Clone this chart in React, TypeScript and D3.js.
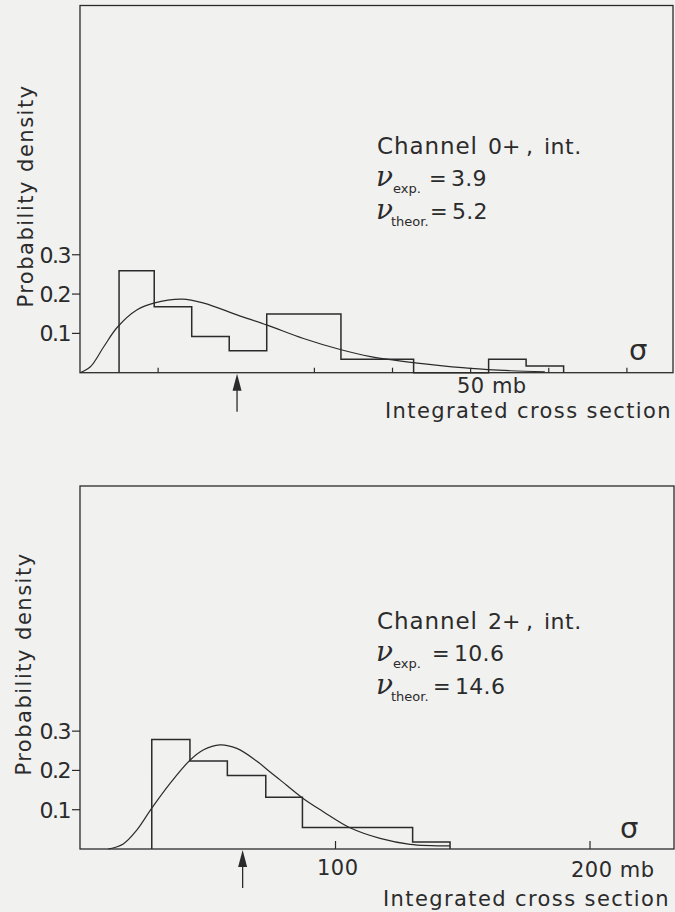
import React from 'react';
import * as d3 from 'd3';

// ---------- Top panel (Channel 0+) ----------
const topBinEdges = [5, 9.5, 14.3, 19.1, 23.9, 33.4, 42.7, 52.3, 57.1, 61.9];
const topBinDensity = [0.259, 0.168, 0.092, 0.056, 0.149, 0.034, 0, 0.034, 0.017];
const topCurveSigma = [0, 1.33, 3.04, 4.75, 7.31, 9.44, 13.07, 15.84, 20.1, 23.95, 28.6, 33.3, 37.2, 40.2, 44.4, 50, 55.1, 59.5];
const topCurveDensity = [0, 0.015, 0.066, 0.115, 0.16, 0.177, 0.187, 0.177, 0.147, 0.121, 0.087, 0.059, 0.041, 0.032, 0.022, 0.011, 0.005, 0.002];
const topXTicks = [10, 30, 40, 50, 60, 70];
const topMean = 20.1;
const topLabels = { channel: '0', exp: '3.9', theor: '5.2', tickLabel: '50 mb', tickValue: 50 };

// ---------- Bottom panel (Channel 2+) ----------
const botBinEdges = [27.8, 42.8, 57.5, 72.6, 87, 130.3, 145];
const botBinDensity = [0.279, 0.224, 0.187, 0.132, 0.055, 0.018];
const botCurveSigma = [10.7, 16.6, 21.9, 27.8, 35, 42.8, 48, 54.6, 61.2, 69, 74.3, 78.2, 87, 95.2, 105.7, 117.5, 129.3, 145];
const botCurveDensity = [0, 0.013, 0.048, 0.104, 0.167, 0.226, 0.252, 0.265, 0.256, 0.224, 0.196, 0.176, 0.13, 0.095, 0.054, 0.027, 0.012, 0.008];
const botXTicks = [100, 200];
const botMean = 63.5;
const botLabels = { channel: '2', exp: '10.6', theor: '14.6' };

const yTicks = [0.1, 0.2, 0.3];
const yTickLabels = ['0.1', '0.2', '0.3'];

const INK = '#2b2b2b';
const FONT = '"DejaVu Sans", sans-serif';

type PanelProps = {
  frame: { left: number; right: number; top: number; bottom: number };
  xDomain: [number, number];
  yDomain: [number, number];
  edges: number[];
  density: number[];
  curveX: number[];
  curveY: number[];
  xTicks: number[];
  tickLen: number;
  mean: number;
  channel: string;
  exp: string;
  theor: string;
  textBase: number;
  eqX: number;
  numX: number;
  sigmaPos: [number, number];
  yLabelCenter: number;
  yLabelX: number;
  xTickTexts: { x: number; y: number; text: string }[];
  xTitle: { x: number; y: number };
};

function Panel(p: PanelProps) {
  const { frame } = p;
  const x = d3.scaleLinear().domain(p.xDomain).range([frame.left, frame.right]);
  const y = d3.scaleLinear().domain(p.yDomain).range([frame.bottom, frame.top]);

  const path = d3.path();
  path.moveTo(x(p.edges[0]), y(0));
  p.density.forEach((v, i) => {
    path.lineTo(x(p.edges[i]), y(v));
    path.lineTo(x(p.edges[i + 1]), y(v));
  });
  path.lineTo(x(p.edges[p.edges.length - 1]), y(0));

  const pts: [number, number][] = p.curveX.map((s, i) => [s, p.curveY[i]]);
  const line = d3
    .line<[number, number]>()
    .x((d) => x(d[0]))
    .y((d) => y(d[1]))
    .curve(d3.curveCatmullRom.alpha(0.5));

  const ax = x(p.mean);
  const ay = frame.bottom + 1;

  return (
    <g>
      <rect
        x={frame.left}
        y={frame.top}
        width={frame.right - frame.left}
        height={frame.bottom - frame.top}
        fill="none"
        stroke={INK}
        strokeWidth={1.3}
      />
      {yTicks.map((t, i) => (
        <g key={t}>
          <line x1={frame.left - 8} x2={frame.left} y1={y(t)} y2={y(t)} stroke={INK} strokeWidth={1.2} />
          <text
            x={frame.left - 10}
            y={y(t)}
            dy="0.36em"
            textAnchor="end"
            fontFamily={FONT}
            fontSize={22}
            letterSpacing={-1.5}
            fill={INK}
          >
            {yTickLabels[i]}
          </text>
        </g>
      ))}
      {p.xTicks.map((t) => (
        <line key={t} x1={x(t)} x2={x(t)} y1={frame.bottom} y2={frame.bottom - p.tickLen} stroke={INK} strokeWidth={1.2} />
      ))}
      <path d={path.toString()} fill="none" stroke={INK} strokeWidth={1.5} />
      <path d={line(pts) || ''} fill="none" stroke={INK} strokeWidth={1.2} />
      <line x1={ax} x2={ax} y1={ay + 12} y2={ay + 38} stroke={INK} strokeWidth={1.3} />
      <path d={`M${ax},${ay} L${ax - 4.5},${ay + 17} L${ax + 4.5},${ay + 17} Z`} fill={INK} />
      <text x={p.sigmaPos[0]} y={p.sigmaPos[1]} fontFamily={FONT} fontSize={29} fill={INK}>
        σ
      </text>
      <g fontFamily={FONT} fill={INK}>
        <text x={377} y={p.textBase} fontSize={23} letterSpacing={0.9}>
          Channel
        </text>
        <text x={488} y={p.textBase} fontSize={22}>
          {p.channel}
        </text>
        <text x={502} y={p.textBase} fontSize={22}>
          +
        </text>
        <text x={526} y={p.textBase} fontSize={22}>
          ,
        </text>
        <text x={544} y={p.textBase} fontSize={22} letterSpacing={0.5}>
          int.
        </text>

        <text x={376} y={p.textBase + 32} fontSize={28} fontStyle="italic" fontFamily='"DejaVu Serif", serif'>
          ν
        </text>
        <text x={393} y={p.textBase + 39} fontSize={13}>
          exp.
        </text>
        <text x={p.eqX} y={p.textBase + 32} fontSize={21}>
          =
        </text>
        <text x={p.numX} y={p.textBase + 32} fontSize={22} letterSpacing={0.3}>
          {p.exp}
        </text>

        <text x={376} y={p.textBase + 65} fontSize={28} fontStyle="italic" fontFamily='"DejaVu Serif", serif'>
          ν
        </text>
        <text x={391} y={p.textBase + 72} fontSize={13}>
          theor.
        </text>
        <text x={p.eqX + 1} y={p.textBase + 65} fontSize={21}>
          =
        </text>
        <text x={p.numX + 1} y={p.textBase + 65} fontSize={22} letterSpacing={0.3}>
          {p.theor}
        </text>
      </g>
      {p.xTickTexts.map((t) => (
        <text key={t.text} x={t.x} y={t.y} fontFamily={FONT} fontSize={21} fill={INK} letterSpacing={0.5}>
          {t.text}
        </text>
      ))}
      <text x={p.xTitle.x} y={p.xTitle.y} fontFamily={FONT} fontSize={21} fill={INK} letterSpacing={1.4}>
        Integrated cross section
      </text>
      <text
        transform={`translate(${p.yLabelX},${p.yLabelCenter}) rotate(-90)`}
        textAnchor="middle"
        fontFamily={FONT}
        fontSize={21}
        fill={INK}
        letterSpacing={1.5}
      >
        Probability density
      </text>
    </g>
  );
}

export default function App() {
  return (
    <div style={{ position: 'absolute', left: 0, top: 0, width: 675, height: 912, background: '#f1f1f0' }}>
      <svg width={675} height={912} style={{ display: 'block' }}>
        <rect width={675} height={912} fill="#f1f1f0" />
        <Panel
          frame={{ left: 80, right: 673, top: 5.5, bottom: 372.7 }}
          xDomain={[0, 75.9]}
          yDomain={[0, 0.934]}
          edges={topBinEdges}
          density={topBinDensity}
          curveX={topCurveSigma}
          curveY={topCurveDensity}
          xTicks={topXTicks}
          tickLen={5}
          mean={topMean}
          channel={topLabels.channel}
          exp={topLabels.exp}
          theor={topLabels.theor}
          textBase={154}
          eqX={429}
          numX={451}
          sigmaPos={[629, 360]}
          yLabelCenter={196}
          yLabelX={33}
          xTickTexts={[{ x: 457, y: 393, text: topLabels.tickLabel }]}
          xTitle={{ x: 385, y: 418 }}
        />
        <Panel
          frame={{ left: 80, right: 674, top: 486, bottom: 849 }}
          xDomain={[-0.4, 233]}
          yDomain={[0, 0.924]}
          edges={botBinEdges}
          density={botBinDensity}
          curveX={botCurveSigma}
          curveY={botCurveDensity}
          xTicks={botXTicks}
          tickLen={8}
          mean={botMean}
          channel={botLabels.channel}
          exp={botLabels.exp}
          theor={botLabels.theor}
          textBase={629}
          eqX={432}
          numX={454}
          sigmaPos={[620, 838]}
          yLabelCenter={664}
          yLabelX={31}
          xTickTexts={[
            { x: 317, y: 875, text: '100' },
            { x: 571, y: 877, text: '200 mb' },
          ]}
          xTitle={{ x: 383, y: 906 }}
        />
      </svg>
    </div>
  );
}
